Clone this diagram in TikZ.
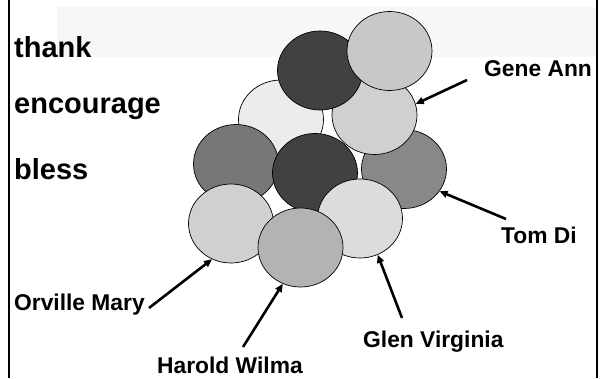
\documentclass[tikz,border=0pt]{standalone}
\usepackage{fontspec}
\setmainfont{Liberation Sans}
\usetikzlibrary{arrows.meta,shapes.geometric}

\definecolor{bandgrey}{HTML}{F7F7F7}
\definecolor{darkball}{HTML}{414141}
\definecolor{paleball}{HTML}{ECECEC}
\definecolor{lightball}{HTML}{D0D0D0}
\definecolor{topball}{HTML}{C8C8C8}
\definecolor{midball}{HTML}{888888}
\definecolor{leftball}{HTML}{777777}
\definecolor{glenball}{HTML}{DCDCDC}
\definecolor{haroldball}{HTML}{B3B3B3}

\tikzset{
	ball/.style={ellipse, draw=black, line width=0.7pt, minimum width=85pt, minimum height=79pt, inner sep=0pt},
	bigword/.style={anchor=base west, inner sep=0pt, font=\bfseries\fontsize{29}{29}\selectfont},
	personname/.style={anchor=base west, inner sep=0pt, font=\bfseries\fontsize{22.8}{23}\selectfont},
	pointer/.style={line width=2.6pt, -{Triangle[length=8pt,width=7pt]}}
}

\begin{document}
\begin{tikzpicture}[x=1pt, y=-1pt]
			%%%%% START %%%%%
			\useasboundingbox (0, 0) rectangle (605, 378);
			
			\fill[bandgrey] (57, 7) rectangle (596, 57);
			\draw[line width=2pt] (9, 0) -- (9, 378);
			\draw[line width=2pt] (597, 0) -- (597, 378);
			
			\node[bigword] (wThank) at (14, 57) {thank};
			\node[bigword] (wEncourage) at (14, 113) {encourage};
			\node[bigword] (wBless) at (14, 179) {bless};
			
			% back row first, front row last
			\node[ball, fill=paleball] (ballPale) at (281, 119.5) {};
			\node[ball, fill=midball] (ballTom) at (404, 169) {};
			\node[ball, fill=lightball] (ballGene) at (374.5, 115) {};
			\node[ball, fill=darkball] (ballTopDark) at (320, 70.5) {};
			\node[ball, fill=topball] (ballTopLight) at (389.5, 51) {};
			\node[ball, fill=leftball] (ballLeft) at (236, 164) {};
			\node[ball, fill=darkball] (ballMidDark) at (315, 173) {};
			\node[ball, fill=glenball] (ballGlen) at (360, 218.5) {};
			\node[ball, fill=lightball] (ballOrville) at (231, 223.5) {};
			\node[ball, fill=haroldball] (ballHarold) at (300.5, 247.5) {};
			
			\node[personname] (nGene) at (484, 76) {Gene Ann};
			\node[personname] (nTom) at (501, 243) {Tom Di};
			\node[personname] (nOrville) at (14, 310) {Orville Mary};
			\node[personname] (nHarold) at (157, 373) {Harold Wilma};
			\node[personname] (nGlen) at (363, 347) {Glen Virginia};
			
			\coordinate (tGene) at (467, 80);
			\coordinate (tTom) at (506, 219);
			\coordinate (tOrville) at (149, 308);
			\coordinate (tHarold) at (243, 347);
			\coordinate (tGlen) at (402, 318);
			
			\draw[pointer] (tGene) -- (ballGene.15);
			\draw[pointer] (tTom) -- (ballTom.-32);
			\draw[pointer] (tOrville) -- (ballOrville.-118);
			\draw[pointer] (tHarold) -- (ballHarold.-116);
			\draw[pointer] (tGlen) -- (ballGlen.-64);
			
			%%%%% END %%%%%
\end{tikzpicture}
\end{document}
